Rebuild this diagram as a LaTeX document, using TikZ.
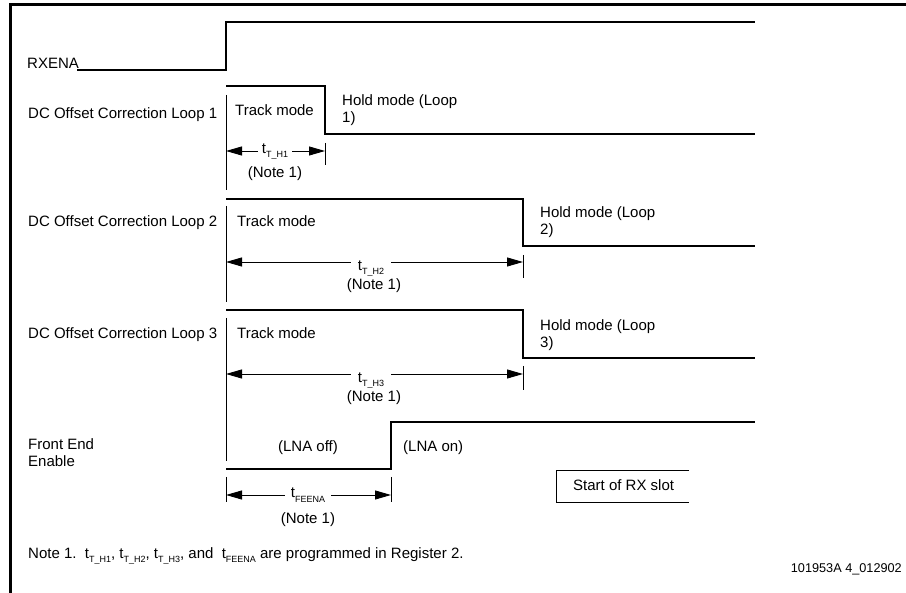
\documentclass[tikz,border=0pt]{standalone}
\usepackage{fontspec}
\setmainfont{Liberation Sans}
\usetikzlibrary{arrows.meta}
\newcommand\tsub[2][4pt]{t\raisebox{-#1}{\fontsize{9}{9}\selectfont #2}}
\begin{document}
\begin{tikzpicture}[x=1pt,y=-1pt,
  sig/.style={line width=1.2pt},
  tickl/.style={line width=0.9pt},
  frame/.style={line width=3pt},
  dim/.style={line width=0.9pt,{Triangle[length=16pt,width=9pt]}-{Triangle[length=16pt,width=9pt]}},
  lbl/.style={anchor=base west,inner sep=0pt,font=\fontsize{15}{17}\selectfont},
  ctr/.style={anchor=base,inner sep=0pt,font=\fontsize{15}{17}\selectfont},
  tlbl/.style={anchor=base,fill=white,inner xsep=4pt,inner ysep=2pt,font=\fontsize{15}{17}\selectfont}]
\useasboundingbox (0,0) rectangle (906,593);
% frame
\coordinate (fb) at (10,593); \coordinate (fc) at (10,5); \coordinate (fr) at (906,5);
\draw[frame] (fb) -- (fc) -- (fr);
% signal labels
\node[lbl] (nrx) at (27,69) {RXENA};
\node[lbl] (nl1) at (28,119) {DC Offset Correction Loop 1};
\node[lbl] (nl2) at (28,227) {DC Offset Correction Loop 2};
\node[lbl] (nl3) at (28,339) {DC Offset Correction Loop 3};
\node[lbl] (nfe1) at (28,450) {Front End};
\node[lbl] (nfe2) at (28,467) {Enable};
% RXENA
\coordinate (rx0) at (77,70); \coordinate (rx1) at (226,70);
\coordinate (rx2) at (226,22); \coordinate (rx3) at (755,22);
\draw[sig] (rx0) -- (rx1) -- (rx2) -- (rx3);
% Loop 1
\coordinate (a0) at (226,86); \coordinate (a1) at (325,86);
\coordinate (a2) at (325,134); \coordinate (a3) at (755,134);
\draw[sig] (a0) -- (a1) -- (a2) -- (a3);
\coordinate (a4) at (226,95); \coordinate (a5) at (226,190);
\draw[tickl] (a4) -- (a5);
\coordinate (a6) at (325,143); \coordinate (a7) at (325,165);
\draw[tickl] (a6) -- (a7);
\coordinate (a8) at (226,151); \coordinate (a9) at (325,151);
\draw[dim] (a8) -- (a9);
\node[tlbl] (ta) at (275,154) {\tsub{T\_H1}};
\node[ctr] (na) at (275,178) {(Note 1)};
\node[lbl] (tra) at (235,116) {Track mode};
\node[lbl] (ha1) at (342,106) {Hold mode (Loop};
\node[lbl] (ha2) at (342,123) {1)};
% Loop 2
\coordinate (b0) at (226,199); \coordinate (b1) at (523,199);
\coordinate (b2) at (523,246); \coordinate (b3) at (755,246);
\draw[sig] (b0) -- (b1) -- (b2) -- (b3);
\coordinate (b4) at (226,206); \coordinate (b5) at (226,302);
\draw[tickl] (b4) -- (b5);
\coordinate (b6) at (523,255); \coordinate (b7) at (523,278);
\draw[tickl] (b6) -- (b7);
\coordinate (b8) at (226,262); \coordinate (b9) at (523,262);
\draw[dim] (b8) -- (b9);
\node[tlbl,inner xsep=7pt] (tb) at (371,271) {\tsub{T\_H2}};
\node[ctr] (nb) at (374,290) {(Note 1)};
\node[lbl] (trb) at (237,227) {Track mode};
\node[lbl] (hb1) at (540,218) {Hold mode (Loop};
\node[lbl] (hb2) at (540,235) {2)};
% Loop 3
\coordinate (c0) at (226,310); \coordinate (c1) at (523,310);
\coordinate (c2) at (523,358); \coordinate (c3) at (755,358);
\draw[sig] (c0) -- (c1) -- (c2) -- (c3);
\coordinate (c4) at (226,318); \coordinate (c5) at (226,461);
\draw[tickl] (c4) -- (c5);
\coordinate (c6) at (523,366); \coordinate (c7) at (523,390);
\draw[tickl] (c6) -- (c7);
\coordinate (c8) at (226,374); \coordinate (c9) at (523,374);
\draw[dim] (c8) -- (c9);
\node[tlbl,inner xsep=7pt] (tc) at (371,383) {\tsub{T\_H3}};
\node[ctr] (nc) at (374,402) {(Note 1)};
\node[lbl] (trc) at (237,339) {Track mode};
\node[lbl] (hc1) at (540,331) {Hold mode (Loop};
\node[lbl] (hc2) at (540,348) {3)};
% Front end enable
\coordinate (d0) at (226,469); \coordinate (d1) at (391,469);
\coordinate (d2) at (391,422); \coordinate (d3) at (755,422);
\draw[sig] (d0) -- (d1) -- (d2) -- (d3);
\coordinate (d4) at (226,477); \coordinate (d5) at (226,502);
\draw[tickl] (d4) -- (d5);
\coordinate (d6) at (391,477); \coordinate (d7) at (391,502);
\draw[tickl] (d6) -- (d7);
\coordinate (d8) at (226,495); \coordinate (d9) at (391,495);
\draw[dim] (d8) -- (d9);
\node[tlbl,inner xsep=6pt] (td) at (308,498) {\tsub[5pt]{FEENA}};
\node[ctr] (nd) at (308,524) {(Note 1)};
\node[ctr] (loff) at (308,452) {(LNA off)};
\node[lbl] (lon) at (403,452) {(LNA on)};
% Start of RX slot
\coordinate (s0) at (689,470); \coordinate (s1) at (556,470);
\coordinate (s2) at (556,502); \coordinate (s3) at (689,502);
\draw[tickl] (s0) -- (s1) -- (s2) -- (s3);
\node[lbl] (srx) at (573,491) {Start of RX slot};
% notes
\node[lbl] (note) at (28,559) {Note 1.\ \ \tsub{T\_H1}, \tsub{T\_H2}, \tsub{T\_H3}, and\ \ \tsub{FEENA} are programmed in Register 2.};
\node[anchor=base east,inner sep=0pt,font=\fontsize{12.7}{14}\selectfont] (ref) at (902,573) {101953A 4\_012902};
\end{tikzpicture}
\end{document}
